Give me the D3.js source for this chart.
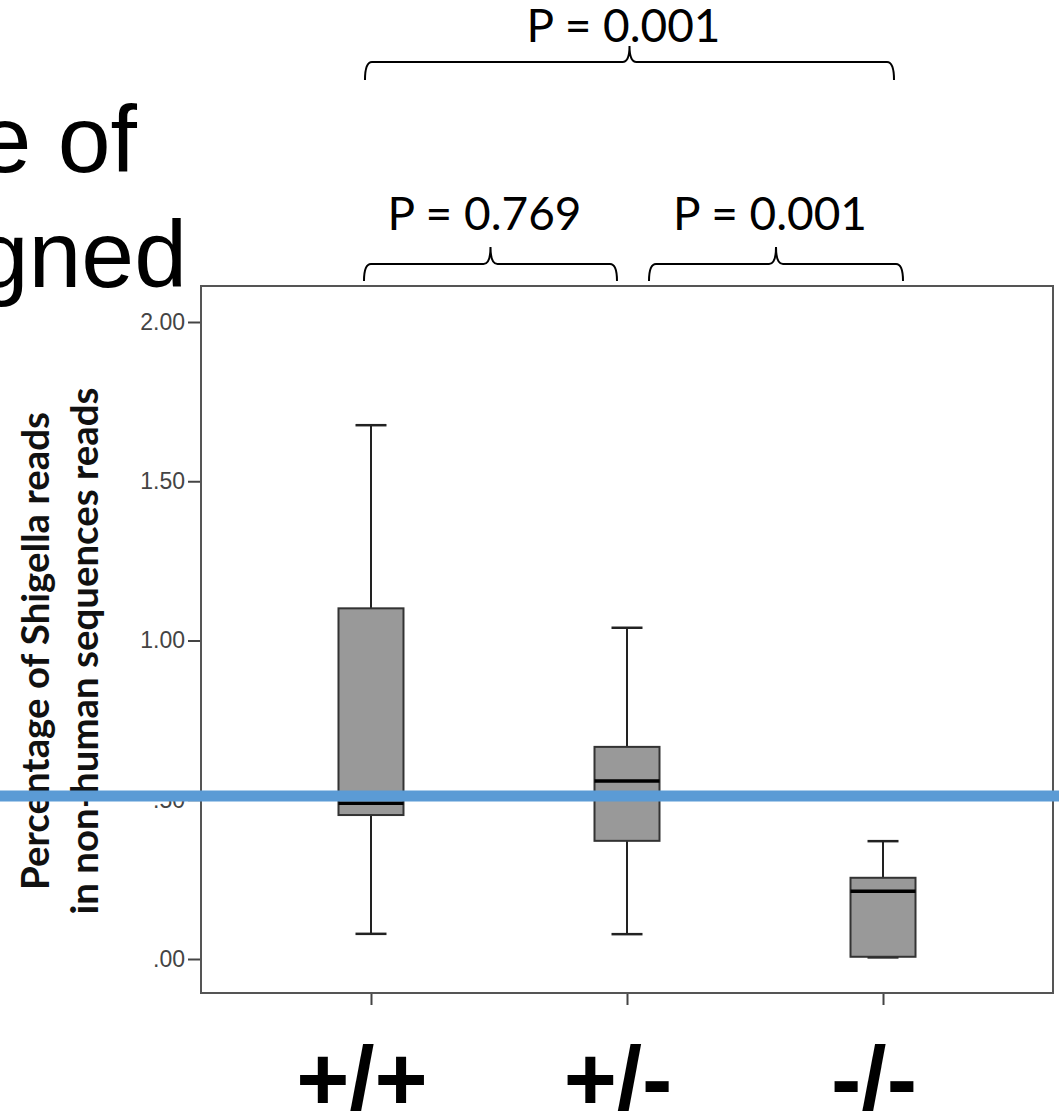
<!DOCTYPE html>
<html><head><meta charset="utf-8">
<script src="https://cdn.jsdelivr.net/npm/d3@7"></script>
<style>html,body{margin:0;padding:0;background:#fff;overflow:hidden}</style>
</head><body>
<svg id="c" width="1059" height="1111"></svg>
<script>
// ---- data ----
const categories = ["+/+", "+/-", "-/-"];
const whiskerLow  = [0.079, 0.078, 0.005];
const q1          = [0.452, 0.371, 0.007];
const median      = [0.489, 0.559, 0.213];
const q3          = [1.101, 0.666, 0.255];
const whiskerHigh = [1.676, 1.040, 0.370];
const yTicks = [0, 0.5, 1.0, 1.5, 2.0];
const comparisons = [
  {from: 0, to: 2, label: "P = 0.001", level: 1},
  {from: 0, to: 1, label: "P = 0.769", level: 0},
  {from: 1, to: 2, label: "P = 0.001", level: 0}
];
const yTitle = ["Percentage of Shigella reads", "in non-human sequences reads"];
const titleFragments = ["e of", "gned"];

// ---- layout ----
const svg = d3.select("#c");
const frame = {l: 201, t: 286, r: 1053, b: 993};
const x = d3.scalePoint().domain(categories).range([frame.l, frame.r]).padding(0.664);
const y = d3.scaleLinear().domain([0, 2]).range([959, 322]);
const boxW = 65, capW = 31;

// fragments of slide title (cut off at the left)
svg.selectAll("text.ttl").data(titleFragments).join("text")
  .attr("class", "ttl")
  .attr("x", (d, i) => i === 0 ? 137 : 187)
  .attr("y", (d, i) => 172 + i * 115)
  .attr("text-anchor", "end")
  .style("font-family", "Liberation Sans, Arial, sans-serif")
  .style("font-size", "95px")
  .attr("fill", "#000")
  .text(d => d);

// y axis
const fmt = v => d3.format(".2f")(v).replace(/^0/, "");
const yAxis = d3.axisLeft(y).tickValues(yTicks).tickFormat(fmt).tickSize(13).tickPadding(3);
const ga = svg.append("g").attr("transform", `translate(${frame.l},0)`).call(yAxis);
ga.select(".domain").remove();
ga.selectAll(".tick line").attr("stroke", "#444").attr("stroke-width", 2);
ga.selectAll(".tick text")
  .style("font-family", "Liberation Sans, Arial, sans-serif")
  .style("font-size", "23px").attr("fill", "#444");

// x axis ticks (no labels)
const xAxis = d3.axisBottom(x).tickSize(12).tickFormat("");
const gx = svg.append("g").attr("transform", `translate(0,${frame.b})`).call(xAxis);
gx.select(".domain").remove();
gx.selectAll(".tick line").attr("stroke", "#444").attr("stroke-width", 2);

// frame
svg.append("rect")
  .attr("x", frame.l).attr("y", frame.t)
  .attr("width", frame.r - frame.l).attr("height", frame.b - frame.t)
  .attr("fill", "none").attr("stroke", "#555").attr("stroke-width", 2);

// boxes
const data = categories.map((c, i) => ({c, lo: whiskerLow[i], q1: q1[i], med: median[i], q3: q3[i], hi: whiskerHigh[i]}));
const g = svg.append("g");
const bx = g.selectAll("g.box").data(data).join("g").attr("class", "box");
bx.append("line").attr("x1", d => x(d.c)).attr("x2", d => x(d.c))
  .attr("y1", d => y(d.hi)).attr("y2", d => y(d.q3)).attr("stroke", "#222").attr("stroke-width", 2);
bx.append("line").attr("x1", d => x(d.c)).attr("x2", d => x(d.c))
  .attr("y1", d => y(d.q1)).attr("y2", d => y(d.lo)).attr("stroke", "#222").attr("stroke-width", 2);
bx.append("line").attr("x1", d => x(d.c) - capW / 2).attr("x2", d => x(d.c) + capW / 2)
  .attr("y1", d => y(d.hi)).attr("y2", d => y(d.hi)).attr("stroke", "#222").attr("stroke-width", 2.5);
bx.append("line").attr("x1", d => x(d.c) - capW / 2).attr("x2", d => x(d.c) + capW / 2)
  .attr("y1", d => y(d.lo)).attr("y2", d => y(d.lo)).attr("stroke", "#222").attr("stroke-width", 2.5);
bx.append("rect").attr("x", d => x(d.c) - boxW / 2).attr("width", boxW)
  .attr("y", d => y(d.q3)).attr("height", d => y(d.q1) - y(d.q3))
  .attr("fill", "#999").attr("stroke", "#333").attr("stroke-width", 2);
bx.append("line").attr("x1", d => x(d.c) - boxW / 2).attr("x2", d => x(d.c) + boxW / 2)
  .attr("y1", d => y(d.med)).attr("y2", d => y(d.med)).attr("stroke", "#000").attr("stroke-width", 3.5);

// y title
const yt = svg.selectAll("text.yt").data(yTitle).join("text").attr("class", "yt")
  .attr("transform", (d, i) => `translate(${49 + i * 49},651) rotate(-90)`)
  .attr("text-anchor", "middle")
  .style("font-family", "Lato, 'Open Sans', sans-serif")
  .style("font-weight", "bold")
  .style("font-size", "36px")
  .attr("fill", "#111")
  .text(d => d);
const yTargets = [478, 527];
yt.each(function(d, i) {
  const w = this.getComputedTextLength();
  d3.select(this).style("font-size", (36 * yTargets[i] / w) + "px");
});

// category labels (big, bold)
svg.selectAll("text.cat").data(categories).join("text").attr("class", "cat")
  .attr("x", d => x(d) - 9).attr("y", 1110)
  .attr("text-anchor", "middle")
  .style("font-family", "Liberation Sans, Arial, sans-serif")
  .style("font-weight", "bold").style("font-size", "91px")
  .attr("fill", "#000").text(d => d);

// comparison brackets
const levelY = [{h: 264, end: 281, tip: 247, txt: 230}, {h: 62, end: 80, tip: 46, txt: 42}];
const offs = {"0-2": [-6, 11], "0-1": [-7, -10], "1-2": [22, 20]};
const r = 7;
comparisons.forEach(cmp => {
  const L = levelY[cmp.level];
  const o = offs[cmp.from + "-" + cmp.to];
  const x1 = x(categories[cmp.from]) + o[0], x2 = x(categories[cmp.to]) + o[1];
  const xm = (x1 + x2) / 2;
  const p = d3.path();
  p.moveTo(x1, L.end);
  p.quadraticCurveTo(x1, L.h, x1 + r, L.h);
  p.lineTo(xm - r, L.h);
  p.quadraticCurveTo(xm, L.h, xm, L.tip);
  p.quadraticCurveTo(xm, L.h, xm + r, L.h);
  p.lineTo(x2 - r, L.h);
  p.quadraticCurveTo(x2, L.h, x2, L.end);
  svg.append("path").attr("d", p.toString()).attr("fill", "none")
    .attr("stroke", "#000").attr("stroke-width", 2);
  const t = svg.append("text").attr("x", xm - 6).attr("y", L.txt)
    .attr("text-anchor", "middle")
    .style("font-family", "Lato, 'Open Sans', sans-serif")
    .style("font-size", "47px").attr("fill", "#000").text(cmp.label);
  const w = t.node().getComputedTextLength();
  t.style("font-size", (47 * 194 / w) + "px");
});

// blue overlay line across the slide
svg.append("line").attr("x1", 0).attr("x2", 1059)
  .attr("y1", 796).attr("y2", 796)
  .attr("stroke", "#5B9BD5").attr("stroke-width", 11);
</script>
</body></html>
